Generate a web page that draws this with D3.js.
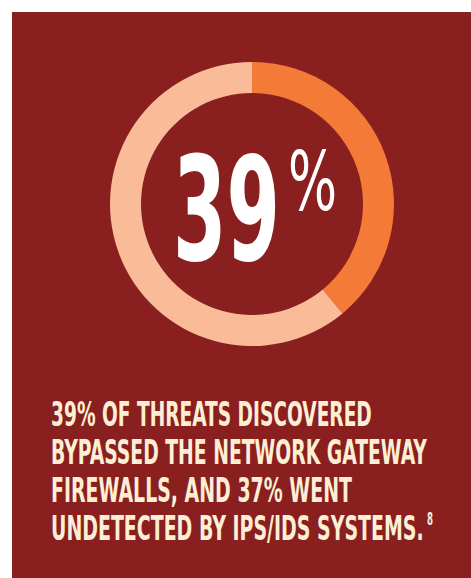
<!DOCTYPE html>
<html>
<head>
<meta charset="utf-8">
<script src="https://cdn.jsdelivr.net/npm/d3@7"></script>
<style>
  html, body { margin: 0; padding: 0; background: #fff; }
  svg { display: block; }
</style>
</head>
<body>
<svg id="chart" width="471" height="578"></svg>
<script>
// share of threats that got past the gateway firewall
let shareLabels = ['bypassed', 'stopped'];
let shareValues = [39, 61];
let bigNumber = '39';
let captionLines = [
  '39% OF THREATS DISCOVERED',
  'BYPASSED THE NETWORK GATEWAY',
  'FIREWALLS, AND 37% WENT',
  'UNDETECTED BY IPS/IDS SYSTEMS.'
];
let footnote = '8';

let svg = d3.select('svg#chart');
let font = '"DejaVu Sans Condensed", "Liberation Sans Narrow", "Liberation Sans", sans-serif';

// squeeze a text horizontally so it spans the given width (poster font is very condensed)
function fitText(sel, x, y, width) {
  sel.each(function () {
    let w = this.getComputedTextLength();
    d3.select(this)
      .attr('transform', `translate(${x}, ${y}) scale(${width / w}, 1)`);
  });
}

// background panel
svg.append('rect')
  .attr('x', 12)
  .attr('y', 12)
  .attr('width', 459)
  .attr('height', 566)
  .attr('fill', '#8a1f1f');

// donut
let cx = 252, cy = 204;
let pie = d3.pie().sort(null).value(d => d);
let arc = d3.arc().innerRadius(111).outerRadius(142);
let color = d3.scaleOrdinal()
  .domain(shareLabels)
  .range(['#f47a37', '#f9bb98']);

svg.append('g')
  .attr('transform', `translate(${cx}, ${cy})`)
  .selectAll('path')
  .data(pie(shareValues))
  .enter().append('path')
  .attr('d', arc)
  .attr('fill', (d, i) => color(shareLabels[i]));

// big number in the middle
svg.append('text')
  .attr('font-family', font)
  .attr('font-weight', 'bold')
  .attr('font-size', 145)
  .attr('fill', '#ffffff')
  .text(bigNumber)
  .call(fitText, 173, 260, 107);
svg.append('text')
  .attr('font-family', font)
  .attr('font-size', 82)
  .attr('fill', '#ffffff')
  .text('%')
  .call(fitText, 288, 210, 49);

// caption
let lineWidths = [321, 376, 301, 373];
svg.selectAll('text.caption')
  .data(captionLines)
  .enter().append('text')
  .attr('class', 'caption')
  .attr('font-family', font)
  .attr('font-weight', 'bold')
  .attr('font-size', 34)
  .attr('fill', '#fcefd6')
  .text(d => d)
  .each(function (d, i) {
    d3.select(this).call(fitText, 51, 426 + i * 38, lineWidths[i]);
  });

svg.append('text')
  .attr('font-family', font)
  .attr('font-weight', 'bold')
  .attr('font-size', 17)
  .attr('fill', '#fcefd6')
  .text(footnote)
  .call(fitText, 427, 525, 6);
</script>
</body>
</html>
